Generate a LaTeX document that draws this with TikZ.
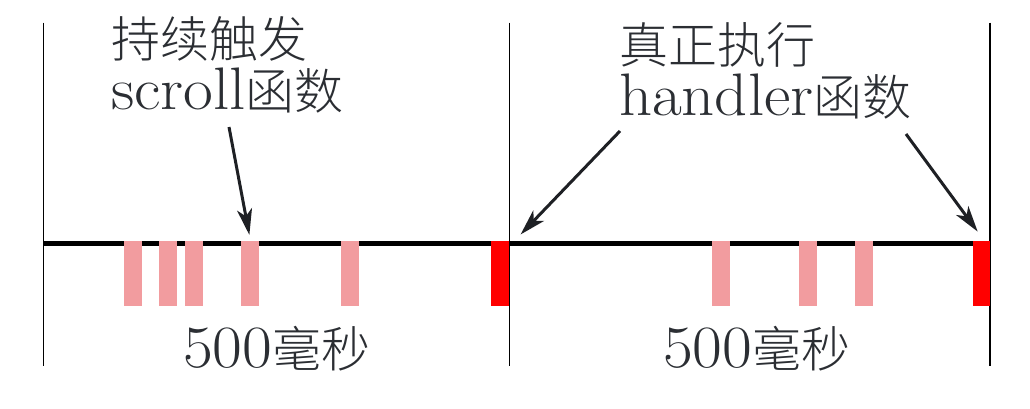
\documentclass[tikz,border=0pt]{standalone}
\usepackage{fontspec}
\newfontfamily\cjkfont{Noto Sans CJK SC Light}
\newfontfamily\latfont{lmroman17-regular.otf}[FakeStretch=1.08]
\usetikzlibrary{arrows.meta}
\definecolor{txt}{HTML}{2B2E33}
\definecolor{arrowc}{HTML}{1E2024}
\definecolor{pinkbar}{HTML}{F29C9F}
\definecolor{redbar}{HTML}{FF0000}
\newcommand\zhtxt[1]{{\cjkfont\fontsize{49}{49}\selectfont #1}}
\newcommand\twolines[3]{\vtop{\lineskiplimit=-200pt\baselineskip=#1\hbox{#2}\hbox{#3}}}
\begin{document}
\begin{tikzpicture}[x=1pt,y=-1pt,
  lbl/.style={anchor=base west, inner sep=0pt, outer sep=0pt, text=txt,
              font=\latfont\fontsize{60}{60}\selectfont},
  vline/.style={line width=1.5pt, black},
  axis/.style={line width=5pt, black},
  softbar/.style={fill=pinkbar, draw=none},
  hardbar/.style={fill=redbar, draw=none},
  pointer/.style={line width=3pt, arrowc, -{Stealth[length=26pt, width=15pt, inset=7pt]}, shorten >=-2pt}]
\useasboundingbox (0,0) rectangle (1030,409);
% vertical separators
\draw[vline] (43.3,22.7) -- (43.3,365.7);
\draw[vline] (509.5,22.7) -- (509.5,365.7);
\draw[vline] (990,22.7) -- (990,365.7);
% time axis
\draw[axis] (43,243.2) -- (990,243.2);
% scroll events
\fill[softbar] (124,240.7) rectangle (141.7,305.7);
\fill[softbar] (159,240.7) rectangle (176.7,305.7);
\fill[softbar] (185,240.7) rectangle (202.7,305.7);
\fill[softbar] (241,240.7) rectangle (258.7,305.7);
\fill[softbar] (341,240.7) rectangle (358.7,305.7);
\fill[softbar] (712,240.7) rectangle (729.7,305.7);
\fill[softbar] (799,240.7) rectangle (816.7,305.7);
\fill[softbar] (855,240.7) rectangle (872.7,305.7);
% handler executions
\fill[hardbar] (491,240.7) rectangle (509,305.7);
\fill[hardbar] (972.5,240.7) rectangle (990,305.7);
% labels
\node[lbl] (l1) at (111,58) {\twolines{52pt}{\zhtxt{持续触发}}{scroll\zhtxt{函数}}};
\node[lbl] (r1) at (619,64) {\twolines{52pt}{\zhtxt{真正执行}}{handler\zhtxt{函数}}};
\node[lbl] (b1) at (183,367) {500\zhtxt{毫秒}};
\node[lbl] (b2) at (663,367) {500\zhtxt{毫秒}};
% arrows
\coordinate (a1s) at (229,127);
\coordinate (a1e) at (249,233);
\coordinate (a2s) at (620,131);
\coordinate (a2e) at (522,233);
\coordinate (a3s) at (906,134);
\coordinate (a3e) at (976.5,230);
\draw[pointer] (a1s) -- (a1e);
\draw[pointer] (a2s) -- (a2e);
\draw[pointer] (a3s) -- (a3e);
\end{tikzpicture}
\end{document}
